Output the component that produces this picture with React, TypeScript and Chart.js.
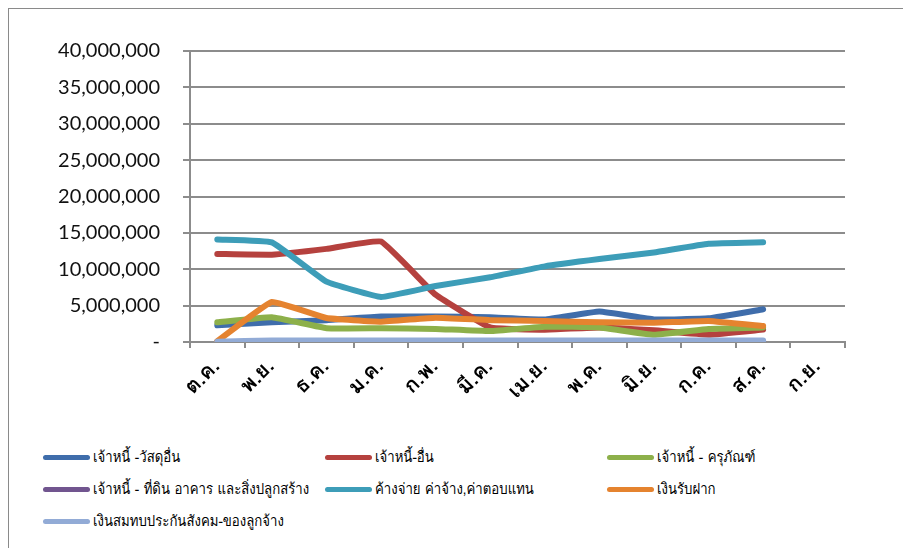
import React, { useEffect, useRef } from "react";
import { Chart, registerables } from "chart.js";

Chart.register(...registerables);

const months = ["ต.ค.", "พ.ย.", "ธ.ค.", "ม.ค.", "ก.พ.", "มี.ค.", "เม.ย.", "พ.ค.", "มิ.ย.", "ก.ค.", "ส.ค.", "ก.ย."];

const seriesNames = [
  "เจ้าหนี้ -วัสดุอื่น",
  "เจ้าหนี้-อื่น",
  "เจ้าหนี้ -  ครุภัณฑ์",
  "เจ้าหนี้ -  ที่ดิน อาคาร และสิ่งปลูกสร้าง",
  "ค้างจ่าย ค่าจ้าง,ค่าตอบแทน",
  "เงินรับฝาก",
  "เงินสมทบประกันสังคม-ของลูกจ้าง",
];

const materials = [2300000, 2700000, 3000000, 3500000, 3500000, 3400000, 3100000, 4200000, 3100000, 3250000, 4500000, null];
const otherPayables = [12100000, 12000000, 12800000, 13800000, 6500000, 2000000, 1700000, 2000000, 1600000, 1000000, 1700000, null];
const equipment = [2700000, 3400000, 1900000, 1900000, 1800000, 1500000, 2100000, 2000000, 1000000, 1800000, 2000000, null];
const landBuildings = [0, 0, 0, 0, 0, 0, 0, 0, 0, 0, 0, null];
const accruedWages = [14100000, 13700000, 8300000, 6200000, 7700000, 8900000, 10400000, 11400000, 12300000, 13500000, 13700000, null];
const deposits = [100000, 5500000, 3300000, 2800000, 3350000, 3000000, 2900000, 2700000, 2650000, 2900000, 2200000, null];
const socialSecurity = [50000, 200000, 200000, 200000, 200000, 200000, 200000, 200000, 200000, 200000, 200000, null];

const seriesValues = [materials, otherPayables, equipment, landBuildings, accruedWages, deposits, socialSecurity];
const seriesColors = ["#3F6DAB", "#B5413E", "#8DB04A", "#71558F", "#3D9DB8", "#E5832F", "#92ABD6"];

const yTicks = [0, 5000000, 10000000, 15000000, 20000000, 25000000, 30000000, 35000000, 40000000];

const thaiFont = "Loma, Garuda, Tahoma, 'Noto Sans Thai Looped', 'Noto Sans Thai', 'Noto Sans', sans-serif";

export default function App() {
  const canvasRef = useRef<HTMLCanvasElement | null>(null);

  useEffect(() => {
    const canvas = canvasRef.current;
    if (!canvas) return;
    const n = seriesValues.length;
    const chart = new Chart(canvas, {
      type: "line",
      data: {
        labels: months,
        datasets: seriesValues.map((vals, i) => ({
          label: seriesNames[i],
          data: vals,
          borderColor: seriesColors[i],
          backgroundColor: seriesColors[i],
          borderWidth: 6,
          pointRadius: 0,
          tension: 0.1,
          borderCapStyle: "round" as const,
          borderJoinStyle: "round" as const,
          spanGaps: false,
          order: n - i,
        })),
      },
      options: {
        responsive: false,
        animation: false,
        events: [],
        layout: { padding: { top: 42, right: 54, left: 0, bottom: 0 } },
        plugins: {
          legend: { display: false },
          tooltip: { enabled: false },
        },
        scales: {
          x: {
            type: "category",
            offset: true,
            grid: {
              offset: true,
              drawOnChartArea: false,
              drawTicks: true,
              tickLength: 6,
              color: "#8c8c8c",
              lineWidth: 2,
            },
            border: { display: true, color: "#8c8c8c", width: 2 },
            ticks: {
              maxRotation: 45,
              minRotation: 45,
              autoSkip: false,
              padding: 7,
              color: "#000",
              font: { family: thaiFont, size: 21, weight: 600 },
            },
            afterFit: (scale: any) => {
              scale.height = 87;
            },
          },
          y: {
            min: 0,
            max: 40000000,
            afterBuildTicks: (scale: any) => {
              scale.ticks = yTicks.map((v) => ({ value: v }));
            },
            grid: {
              color: "#8c8c8c",
              lineWidth: 2,
              drawTicks: true,
              tickLength: 7,
            },
            border: { display: true, color: "#8c8c8c", width: 2 },
            ticks: {
              padding: 23,
              color: "#111",
              font: { family: "Lato, 'Open Sans', sans-serif", size: 20 },
              callback: (v: any) => (Number(v) === 0 ? "-" : Number(v).toLocaleString("en-US")),
            },
            afterFit: (scale: any) => {
              scale.width = 181;
            },
          },
        },
      },
    });
    return () => chart.destroy();
  }, []);

  return (
    <div
      style={{
        position: "relative",
        width: 896,
        height: 560,
        border: "1px solid #8a8a8a",
        boxShadow: "2px 2px 3px rgba(0,0,0,0.35)",
        background: "#fff",
      }}
    >
      <canvas
        ref={canvasRef}
        width={890}
        height={420}
        style={{ position: "absolute", left: 0, top: 0, width: 890, height: 420 }}
      />
      {seriesNames.map((name, i) => {
        const col = i % 3;
        const row = Math.floor(i / 3);
        return (
          <div
            key={name}
            style={{
              position: "absolute",
              left: 34 + col * 282,
              top: 448 + row * 32 - 12,
              height: 24,
              display: "flex",
              alignItems: "center",
              whiteSpace: "nowrap",
              fontFamily: thaiFont,
              fontSize: 15,
              color: "#000",
            }}
          >
            <span
              style={{
                display: "inline-block",
                width: 47,
                height: 5,
                borderRadius: 3,
                background: seriesColors[i],
                marginRight: 3,
                flex: "none",
              }}
            />
            <span
              style={{
                display: "inline-block",
                transform: "scaleX(0.88)",
                transformOrigin: "left center",
              }}
            >
              {name}
            </span>
          </div>
        );
      })}
    </div>
  );
}
